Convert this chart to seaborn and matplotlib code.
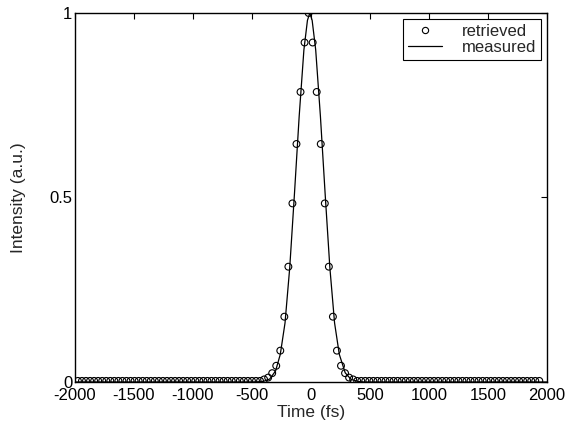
import numpy as np
import pandas as pd
import matplotlib
matplotlib.use("Agg")
import matplotlib.pyplot as plt
from matplotlib.lines import Line2D
import seaborn as sns

# ---- data ----
# retrieved: sampled on an even time grid (index -57..57), step ~34.3 fs, centred near -20 fs
retr_index = np.arange(-57, 58)
retr_center_vals = [0.007, 0.012, 0.024, 0.044, 0.085, 0.177, 0.3125, 0.484, 0.645, 0.786, 0.92,
                    1.0,
                    0.92, 0.786, 0.645, 0.484, 0.3125, 0.177, 0.085, 0.044, 0.024, 0.012, 0.007]
retr_baseline_left = [0.003] * 46
retr_baseline_right = [0.003] * 46
retrieved_intensity = retr_baseline_left + retr_center_vals + retr_baseline_right

measured_time = [-2000, -500, -450, -400, -350, -300, -260, -220, -180, -140, -100, -60,
                 -30, -10, 10, 40, 80, 120, 160, 200, 240, 290, 340, 400, 450, 500, 2000]
measured_intensity = [0.0, 0.0, 0.0005, 0.002, 0.008, 0.03, 0.075, 0.16, 0.31, 0.51, 0.72, 0.9,
                      0.98, 1.0, 0.98, 0.9, 0.72, 0.51, 0.31, 0.16, 0.075, 0.025, 0.007, 0.0015,
                      0.0, 0.0, 0.0]

x_ticks = [-2000, -1500, -1000, -500, 0, 500, 1000, 1500, 2000]
y_ticks = [0, 0.5, 1]
y_tick_labels = ["0", "0.5", "1"]

retrieved_time = retr_index * 34.3 - 20

df_r = pd.DataFrame({"t": retrieved_time, "I": retrieved_intensity})
df_m = pd.DataFrame({"t": measured_time, "I": measured_intensity})

sns.set_style("white")
plt.rcParams["font.family"] = ["Liberation Sans", "DejaVu Sans"]
plt.rcParams["font.size"] = 12

fig = plt.figure(figsize=(5.65, 4.30), dpi=100)
ax = fig.add_axes([0.1327, 0.1116, 0.8354, 0.8582])

sns.lineplot(data=df_m, x="t", y="I", ax=ax, color="black", linewidth=0.9, sort=False)
sns.scatterplot(data=df_r, x="t", y="I", ax=ax, marker="o", s=24,
                facecolors="none", edgecolor="black", linewidth=0.8, zorder=3)

ax.set_xlim(-2000, 2000)
ax.set_ylim(0, 1)
ax.set_xticks(x_ticks)
ax.set_xticklabels([str(v) for v in x_ticks])
ax.set_yticks(y_ticks)
ax.set_yticklabels(y_tick_labels)
ax.tick_params(direction="in", length=4, width=0.8, top=True, right=True,
               labelsize=12, colors="black")
ax.tick_params(axis="x", pad=4)
ax.tick_params(axis="y", pad=2)
for s in ax.spines.values():
    s.set_visible(True)
    s.set_color("black")
    s.set_linewidth(1.0)

ax.set_xlabel("Time (fs)", fontsize=12.5, labelpad=2)
ax.set_ylabel("Intensity (a.u.)", fontsize=12.5, labelpad=17)

handles = [Line2D([], [], marker="o", linestyle="none", markerfacecolor="none",
                  markeredgecolor="black", markersize=4.5, markeredgewidth=0.8),
           Line2D([], [], color="black", linewidth=0.9)]
leg = ax.legend(handles, ["retrieved", "measured"], loc="upper right", fontsize=12,
                frameon=True, fancybox=False, edgecolor="black", framealpha=1,
                borderaxespad=0.35, handlelength=2.0, handletextpad=1.2,
                labelspacing=0.05, borderpad=0.3)
leg.get_frame().set_linewidth(0.8)

fig.savefig("out.png", dpi=100)
